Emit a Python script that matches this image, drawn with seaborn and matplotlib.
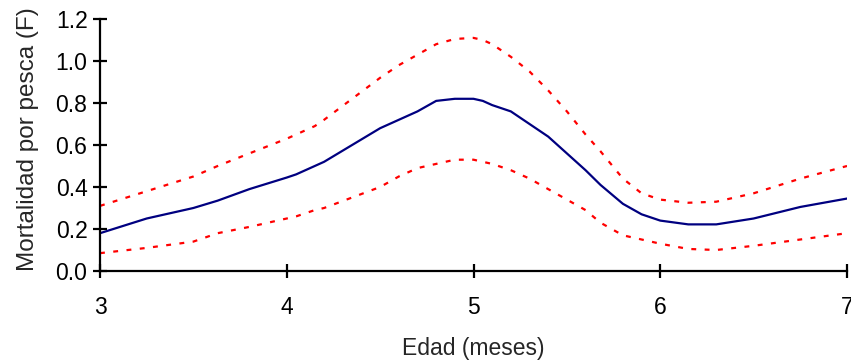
import matplotlib
matplotlib.use("Agg")
import matplotlib.pyplot as plt
import seaborn as sns
import pandas as pd

# Data
edad = [3.0, 3.25, 3.5, 3.63, 3.8, 4.0, 4.05, 4.15, 4.2, 4.35, 4.5, 4.6, 4.7, 4.8, 4.9, 5.0, 5.05, 5.1, 5.2, 5.3, 5.4, 5.5, 5.6, 5.68, 5.8, 5.9, 6.0, 6.15, 6.3, 6.5, 6.75, 7.0]
f_media = [0.18, 0.25, 0.30, 0.335, 0.39, 0.445, 0.46, 0.50, 0.52, 0.60, 0.68, 0.72, 0.76, 0.81, 0.82, 0.82, 0.81, 0.79, 0.76, 0.70, 0.64, 0.56, 0.48, 0.41, 0.32, 0.27, 0.24, 0.222, 0.222, 0.25, 0.305, 0.345]
f_sup = [0.31, 0.38, 0.45, 0.50, 0.56, 0.63, 0.65, 0.69, 0.72, 0.82, 0.92, 0.98, 1.03, 1.08, 1.105, 1.11, 1.10, 1.08, 1.02, 0.95, 0.86, 0.76, 0.65, 0.57, 0.44, 0.37, 0.34, 0.325, 0.33, 0.37, 0.44, 0.50]
f_inf = [0.085, 0.11, 0.14, 0.18, 0.21, 0.25, 0.26, 0.29, 0.30, 0.35, 0.40, 0.45, 0.49, 0.51, 0.53, 0.53, 0.52, 0.51, 0.48, 0.44, 0.39, 0.34, 0.29, 0.23, 0.17, 0.15, 0.13, 0.105, 0.10, 0.12, 0.15, 0.18]

df = pd.DataFrame({"edad": edad, "media": f_media, "sup": f_sup, "inf": f_inf})

sns.set_style("ticks")
plt.rcParams["font.family"] = ["Liberation Sans", "DejaVu Sans"]

fig = plt.figure(figsize=(8.51, 3.6), dpi=100)
ax = fig.add_axes([100/851, 1 - 271/360, 747/851, 252/360])

sns.lineplot(data=df, x="edad", y="sup", ax=ax, color="#ff0000", lw=1.6)
sns.lineplot(data=df, x="edad", y="inf", ax=ax, color="#ff0000", lw=1.6)
sns.lineplot(data=df, x="edad", y="media", ax=ax, color="#000080", lw=1.6)
for ln in ax.lines[:2]:
    ln.set_linestyle((0, (2.2, 3.8)))

ax.set_xlim(3, 7)
ax.set_ylim(0, 1.2)
ax.set_xticks([3, 4, 5, 6, 7])
ax.set_xticklabels(["3", "4", "5", "6", "7"])
ax.set_yticks([0, 0.2, 0.4, 0.6, 0.8, 1.0, 1.2])
ax.set_yticklabels(["0.0", "0.2", "0.4", "0.6", "0.8", "1.0", "1.2"])
sns.despine(ax=ax)
for s in ["left", "bottom"]:
    ax.spines[s].set_linewidth(1.6)
    ax.spines[s].set_color("black")
ax.tick_params(axis="both", direction="inout", length=10, width=1.6, labelsize=16.5, colors="black")
ax.tick_params(axis="x", pad=13)
ax.tick_params(axis="y", pad=4)

ax.set_xlabel("")
ax.set_ylabel("")
fig.text(473/851, 1 - 349/360, "Edad (meses)", ha="center", va="center", fontsize=16.5)
fig.text(28/851, 1 - 139/360, "Mortalidad por pesca (F)", ha="center", va="center", rotation=90, fontsize=17.5)

fig.savefig("out.png", dpi=100)
